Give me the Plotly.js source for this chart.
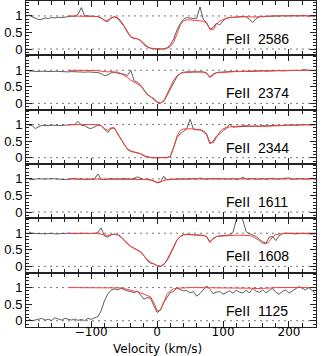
<!DOCTYPE html>
<html>
<head>
<meta charset="utf-8">
<script src="https://cdn.plot.ly/plotly-3.0.1.min.js"></script>
<style>
  html, body { margin: 0; padding: 0; background: #fff; }
  #figure { width: 322px; height: 356px; }
</style>
</head>
<body>
<div id="figure"></div>
<script>
// Velocity grid (km/s), shared by every panel
const velocity = [
  -195, -190, -185, -180, -175, -170, -165, -160, -155, -150, -145, -140,
  -135, -130, -125, -120, -115, -110, -105, -100, -95, -90, -85, -80,
  -75, -70, -65, -60, -55, -50, -45, -40, -35, -30, -25, -20,
  -15, -10, -5, 0, 5, 10, 15, 20, 25, 30, 35, 40,
  45, 50, 55, 60, 65, 70, 75, 80, 85, 90, 95, 100,
  105, 110, 115, 120, 125, 130, 135, 140, 145, 150, 155, 160,
  165, 170, 175, 180, 185, 190, 195, 200, 205, 210, 215, 220,
  225, 230, 235, 240
];

const lineLabels = ['FeII\u00a0 2586', 'FeII\u00a0 2374', 'FeII\u00a0 2344',
                    'FeII\u00a0 1611', 'FeII\u00a0 1608', 'FeII\u00a0 1125'];

// Normalised flux (black)
const flux2586 = [
  1.02, 0.98, 0.93, 0.89, 0.9, 0.94, 0.92, 0.95, 0.94, 0.96, 0.95, 0.97,
  0.98, 0.99, 0.99, 1.05, 1.25, 1.0, 1.0, 1.0, 0.99, 0.98, 0.94, 0.86,
  0.82, 0.93, 0.97, 0.92, 0.8, 0.68, 0.5, 0.36, 0.32, 0.31, 0.25, 0.13,
  0.06, 0.02, 0.01, 0.0, 0.01, 0.0, 0.04, 0.12, 0.3, 0.57, 0.77, 0.9,
  0.95, 0.93, 0.92, 0.93, 1.27, 0.9, 0.8, 0.6, 0.65, 0.78, 0.73, 0.85,
  0.93, 0.95, 0.96, 0.97, 0.97, 0.98, 0.97, 0.9, 0.8, 0.92, 0.97, 0.98,
  0.99, 0.98, 1.0, 1.0, 0.99, 1.01, 1.0, 1.01, 1.02, 1.01, 1.0, 1.02,
  1.01, 0.99, 1.0, 0.98
];
const flux2374 = [
  0.98, 0.97, 0.98, 0.96, 0.97, 0.96, 0.97, 0.96, 0.97, 0.96, 0.97, 0.96,
  0.95, 0.96, 0.95, 0.94, 0.95, 0.94, 0.95, 0.94, 0.95, 0.93, 0.9, 0.84,
  0.86, 0.92, 0.93, 0.92, 0.91, 0.88, 0.84, 1.0, 0.68, 0.64, 0.55, 0.4,
  0.26, 0.2, 0.14, 0.05, 0.01, 0.06, 0.25, 0.45, 0.65, 0.8, 0.9, 0.94,
  0.95, 0.95, 0.96, 0.95, 0.96, 0.95, 0.92, 0.8, 0.88, 0.93, 0.94, 0.95,
  0.95, 0.96, 0.96, 0.97, 0.96, 0.97, 0.97, 0.96, 0.97, 0.98, 0.97, 0.98,
  0.97, 0.98, 0.99, 0.98, 0.99, 0.98, 0.99, 1.0, 0.99, 1.0, 0.99, 1.0,
  1.02, 0.99, 1.0, 0.99
];
const flux2344 = [
  0.98, 0.97, 0.88, 0.93, 0.98, 0.97, 0.98, 0.97, 0.98, 0.97, 0.98, 0.99,
  0.98, 0.99, 1.0, 1.1, 0.98, 0.97, 0.9, 0.88, 0.94, 0.98, 0.97, 0.85,
  0.76, 0.88, 0.9, 0.72, 0.55, 0.38, 0.25, 0.19, 0.17, 0.16, 0.12, 0.05,
  0.02, 0.01, 0.0, 0.0, 0.01, 0.0, 0.01, 0.03, 0.3, 0.6, 0.72, 0.8,
  0.88, 1.16, 0.86, 0.84, 0.85, 0.78, 0.7, 0.42, 0.5, 0.65, 0.72, 0.82,
  0.88, 1.02, 0.92, 0.93, 0.94, 0.93, 0.94, 0.95, 0.94, 0.96, 0.95, 0.97,
  0.96, 0.97, 0.96, 0.98, 0.97, 0.98, 0.97, 0.98, 0.99, 0.98, 0.99, 0.98,
  1.0, 0.99, 0.98, 0.99
];
const flux1611 = [
  1.0, 0.98, 0.99, 1.01, 1.0, 0.99, 1.0, 1.01, 1.0, 0.99, 1.0, 0.98,
  0.99, 1.0, 1.01, 0.99, 1.0, 0.98, 0.99, 0.99, 1.0, 1.15, 0.99, 0.98,
  1.0, 1.01, 1.0, 0.99, 1.0, 1.01, 1.0, 0.99, 1.02, 1.06, 1.02, 0.98,
  1.0, 0.98, 0.94, 0.88, 0.9, 1.08, 0.97, 0.98, 0.99, 1.0, 1.01, 1.0,
  0.99, 1.0, 1.01, 0.99, 1.03, 1.0, 0.99, 1.01, 1.0, 0.99, 1.0, 1.01,
  0.99, 1.0, 1.01, 0.99, 1.0, 1.05, 0.99, 1.0, 1.01, 0.99, 1.0, 1.01,
  0.99, 1.0, 1.02, 0.99, 1.0, 0.99, 1.01, 1.03, 0.99, 1.0, 0.99, 1.01,
  0.99, 1.0, 1.02, 0.99
];
const flux1608 = [
  1.04, 1.0, 0.99, 1.0, 0.99, 0.98, 0.99, 1.0, 0.98, 0.99, 0.98, 0.99,
  1.0, 0.99, 0.98, 0.99, 1.0, 0.99, 0.98, 0.99, 1.0, 1.02, 1.16, 0.92,
  0.88, 0.95, 0.97, 0.96, 0.9, 0.8, 0.68, 0.6, 0.55, 0.5, 0.44, 0.32,
  0.18, 0.1, 0.08, 0.01, 0.0, 0.05, 0.18, 0.36, 0.58, 0.79, 0.9, 0.96,
  0.97, 0.96, 0.97, 0.96, 0.95, 0.93, 0.9, 0.72, 0.85, 0.9, 0.92, 0.93,
  0.94, 0.95, 1.02, 1.4, 1.5, 1.4, 1.05, 0.98, 0.95, 0.9, 0.82, 0.74,
  0.7, 0.88, 0.9, 0.78, 0.92, 0.99, 1.0, 0.99, 1.0, 0.98, 0.99, 1.0,
  0.99, 0.98, 0.99, 0.98
];
const flux1125 = [
  0.05, 0.0, 0.02, 0.04, 0.07, 0.02, 0.04, 0.01, 0.09, 0.05, 0.02, 0.07,
  0.04, 0.02, 0.05, 0.01, 0.04, 0.0, 0.07, 0.04, 0.09, 0.12, 0.3, 0.6,
  0.8, 0.92, 0.96, 0.93, 0.98, 0.93, 0.9, 0.88, 0.84, 0.9, 0.78, 0.65,
  0.7, 0.68, 0.45, 0.25, 0.32, 0.55, 0.7, 0.85, 0.88, 0.98, 0.94, 0.9,
  0.91, 0.84, 0.88, 0.74, 0.82, 0.92, 1.05, 0.95, 0.82, 0.86, 0.88, 0.8,
  0.86, 0.9, 0.83, 0.92, 0.86, 0.84, 0.92, 0.84, 0.97, 0.89, 0.86, 0.93,
  0.84, 0.9, 0.98, 0.86, 0.8, 0.88, 0.93, 0.83, 0.9, 0.98, 1.03, 0.98,
  0.93, 1.0, 0.9, 0.83
];

// Voigt profile fits (red), no model below -135 km/s
const model2586 = [
  null, null, null, null, null, null, null, null, null, null, null, null,
  1.0, 1.0, 1.0, 1.0, 1.0, 1.0, 1.0, 1.0, 1.0, 0.98, 0.94, 0.87,
  0.87, 0.94, 0.98, 0.95, 0.85, 0.68, 0.5, 0.37, 0.33, 0.31, 0.26, 0.16,
  0.08, 0.03, 0.01, 0.0, 0.0, 0.0, 0.02, 0.08, 0.2, 0.45, 0.72, 0.85,
  0.88, 0.88, 0.87, 0.87, 0.86, 0.84, 0.78, 0.6, 0.58, 0.75, 0.85, 0.9,
  0.93, 0.95, 0.96, 0.97, 0.97, 0.98, 0.98, 0.97, 0.96, 0.97, 0.98, 0.99,
  0.99, 0.99, 1.0, 1.0, 1.0, 1.0, 1.0, 1.0, 1.0, 1.0, 1.0, 1.0,
  1.0, 1.0, 1.0, 1.0
];
const model2374 = [
  null, null, null, null, null, null, null, null, null, null, null, null,
  1.0, 1.0, 1.0, 1.0, 1.0, 1.0, 1.0, 1.0, 1.0, 0.99, 0.97, 0.95,
  0.95, 0.96, 0.95, 0.94, 0.9, 0.85, 0.78, 0.7, 0.64, 0.6, 0.53, 0.4,
  0.28, 0.2, 0.12, 0.03, 0.0, 0.08, 0.28, 0.5, 0.7, 0.83, 0.9, 0.93,
  0.94, 0.95, 0.95, 0.95, 0.95, 0.94, 0.9, 0.78, 0.86, 0.92, 0.93, 0.94,
  0.95, 0.95, 0.96, 0.96, 0.96, 0.97, 0.97, 0.97, 0.98, 0.98, 0.98, 0.98,
  0.98, 0.99, 0.99, 0.99, 0.99, 0.99, 0.99, 0.99, 0.99, 1.0, 1.0, 1.0,
  1.0, 1.0, 1.0, 1.0
];
const model2344 = [
  null, null, null, null, null, null, null, null, null, null, null, null,
  1.0, 1.0, 1.0, 1.0, 1.0, 1.0, 1.0, 1.0, 1.0, 1.0, 0.97, 0.88,
  0.83, 0.9, 0.9, 0.75, 0.57, 0.4, 0.27, 0.2, 0.18, 0.16, 0.12, 0.06,
  0.02, 0.0, 0.0, 0.0, 0.0, 0.0, 0.0, 0.05, 0.3, 0.65, 0.82, 0.87,
  0.88, 0.87, 0.87, 0.86, 0.85, 0.82, 0.72, 0.45, 0.45, 0.62, 0.78, 0.88,
  0.91, 0.93, 0.94, 0.95, 0.96, 0.96, 0.97, 0.96, 0.95, 0.94, 0.94, 0.94,
  0.95, 0.95, 0.96, 0.96, 0.97, 0.97, 0.98, 0.98, 0.98, 0.99, 0.99, 0.99,
  1.0, 1.0, 1.0, 1.0
];
const model1611 = [
  null, null, null, null, null, null, null, null, null, null, null, null,
  1.0, 1.0, 1.0, 1.0, 1.0, 1.0, 1.0, 1.0, 1.0, 1.0, 1.0, 1.0,
  1.0, 1.0, 1.0, 1.0, 1.0, 1.0, 1.0, 1.0, 1.0, 1.0, 0.99, 0.99,
  0.98, 0.96, 0.93, 0.9, 0.91, 0.95, 0.98, 0.99, 1.0, 1.0, 1.0, 1.0,
  1.0, 1.0, 1.0, 1.0, 1.0, 1.0, 1.0, 1.0, 1.0, 1.0, 1.0, 1.0,
  1.0, 1.0, 1.0, 1.0, 1.0, 1.0, 1.0, 1.0, 1.0, 1.0, 1.0, 1.0,
  1.0, 1.0, 1.0, 1.0, 1.0, 1.0, 1.0, 1.0, 1.0, 1.0, 1.0, 1.0,
  1.0, 1.0, 1.0, 1.0
];
const model1608 = [
  null, null, null, null, null, null, null, null, null, null, null, null,
  1.0, 1.0, 1.0, 1.0, 1.0, 1.0, 1.0, 1.0, 1.0, 0.99, 0.97, 0.94,
  0.93, 0.96, 0.97, 0.95, 0.88, 0.78, 0.67, 0.6, 0.55, 0.5, 0.43, 0.32,
  0.2, 0.12, 0.06, 0.02, 0.01, 0.06, 0.2, 0.4, 0.62, 0.8, 0.9, 0.95,
  0.96, 0.96, 0.96, 0.96, 0.95, 0.94, 0.9, 0.75, 0.82, 0.9, 0.91, 0.92,
  0.93, 0.93, 0.94, 0.94, 0.94, 0.94, 0.94, 0.93, 0.9, 0.85, 0.78, 0.7,
  0.68, 0.75, 0.88, 0.96, 0.98, 0.99, 1.0, 1.0, 1.0, 1.0, 1.0, 1.0,
  1.0, 1.0, 1.0, 1.0
];
const model1125 = [
  null, null, null, null, null, null, null, null, null, null, null, null,
  1.0, 1.0, 1.0, 1.0, 1.0, 1.0, 1.0, 1.0, 1.0, 1.0, 1.0, 1.0,
  1.0, 1.0, 1.0, 1.0, 0.99, 0.97, 0.95, 0.93, 0.9, 0.87, 0.84, 0.8,
  0.77, 0.72, 0.55, 0.3, 0.32, 0.58, 0.8, 0.9, 0.96, 0.98, 0.99, 0.99,
  1.0, 1.0, 1.0, 1.0, 1.0, 1.0, 1.0, 1.0, 1.0, 1.0, 1.0, 1.0,
  1.0, 1.0, 1.0, 1.0, 1.0, 1.0, 1.0, 0.99, 0.98, 0.97, 0.97, 0.97,
  0.97, 0.98, 0.99, 1.0, 1.0, 1.0, 1.0, 1.0, 1.0, 1.0, 1.0, 1.0,
  1.0, 1.0, 1.0, 1.0
];

const fluxes = [flux2586, flux2374, flux2344, flux1611, flux1608, flux1125];
const models = [model2586, model2374, model2344, model1611, model1608, model1125];

const nPanels = fluxes.length;
const xRange = [-199, 241];
const yRange = [-0.19, 1.45];
const font = "'Liberation Sans', Arial, sans-serif";
const wideFont = "'DejaVu Sans', 'Liberation Sans', sans-serif";

let traces = [];
let layout = {
  width: 322,
  height: 356,
  margin: { l: 26, r: 6, t: 1, b: 29 },
  paper_bgcolor: 'white',
  plot_bgcolor: 'white',
  showlegend: false,
  font: { family: font, size: 12, color: 'black' },
  shapes: [],
  annotations: [{
    // x-axis title, placed by hand so it sits tight under the tick labels
    text: 'Velocity (km/s)', xref: 'paper', yref: 'paper',
    x: 0.455, y: 0, xanchor: 'center', yanchor: 'bottom', yshift: -31,
    showarrow: false,
    font: { family: wideFont, size: 12, color: 'black' }
  }]
};

for (let i = 0; i < nPanels; i++) {
  let n = i + 1;
  let xa = 'x' + (n === 1 ? '' : n);
  let ya = 'y' + (n === 1 ? '' : n);
  let bottom = (i === nPanels - 1);

  traces.push({
    x: velocity, y: fluxes[i], xaxis: xa, yaxis: ya,
    type: 'scatter', mode: 'lines',
    line: { color: '#333', width: 0.8 },
    hoverinfo: 'skip'
  });
  traces.push({
    x: velocity, y: models[i], xaxis: xa, yaxis: ya,
    type: 'scatter', mode: 'lines',
    line: { color: '#ff3b3b', width: 1 },
    connectgaps: false,
    hoverinfo: 'skip'
  });

  layout['xaxis' + (n === 1 ? '' : n)] = {
    domain: [0, 1],
    anchor: ya,
    range: xRange,
    tick0: 0, dtick: 100,
    ticks: 'inside', ticklen: 6, tickwidth: 1, tickcolor: '#222',
    minor: { dtick: 20, tick0: 0, ticks: 'inside', ticklen: 4, tickwidth: 1, tickcolor: '#222' },
    showline: true, linecolor: '#222', linewidth: 1,
    mirror: 'ticks',
    showgrid: false, zeroline: false,
    showticklabels: bottom,
    tickfont: { family: wideFont, size: 12 },
    ticklabelstandoff: -6
  };
  layout['yaxis' + (n === 1 ? '' : n)] = {
    domain: [1 - (i + 1) / nPanels, 1 - i / nPanels],
    anchor: xa,
    range: yRange,
    tick0: 0, dtick: 0.5,
    ticks: 'inside', ticklen: 6, tickwidth: 1, tickcolor: '#222',
    minor: { dtick: 0.1, tick0: 0, ticks: 'inside', ticklen: 3, tickwidth: 1, tickcolor: '#222' },
    showline: true, linecolor: '#222', linewidth: 1,
    mirror: 'ticks',
    showgrid: false, zeroline: false,
    tickfont: { size: 13 }
  };

  // dotted continuum and zero levels
  [0, 1].forEach(function(level) {
    layout.shapes.push({
      type: 'line', xref: 'paper', yref: ya,
      x0: 0, x1: 1, y0: level, y1: level,
      line: { color: '#777', width: 1, dash: '2px,4px' },
      layer: 'below'
    });
  });

  layout.annotations.push({
    text: lineLabels[i], xref: xa, yref: ya,
    x: 102, y: 0.3, xanchor: 'left', yanchor: 'middle',
    showarrow: false,
    font: { size: 14, color: 'black' }
  });
}

Plotly.newPlot('figure', traces, layout, { staticPlot: true });
</script>
</body>
</html>
